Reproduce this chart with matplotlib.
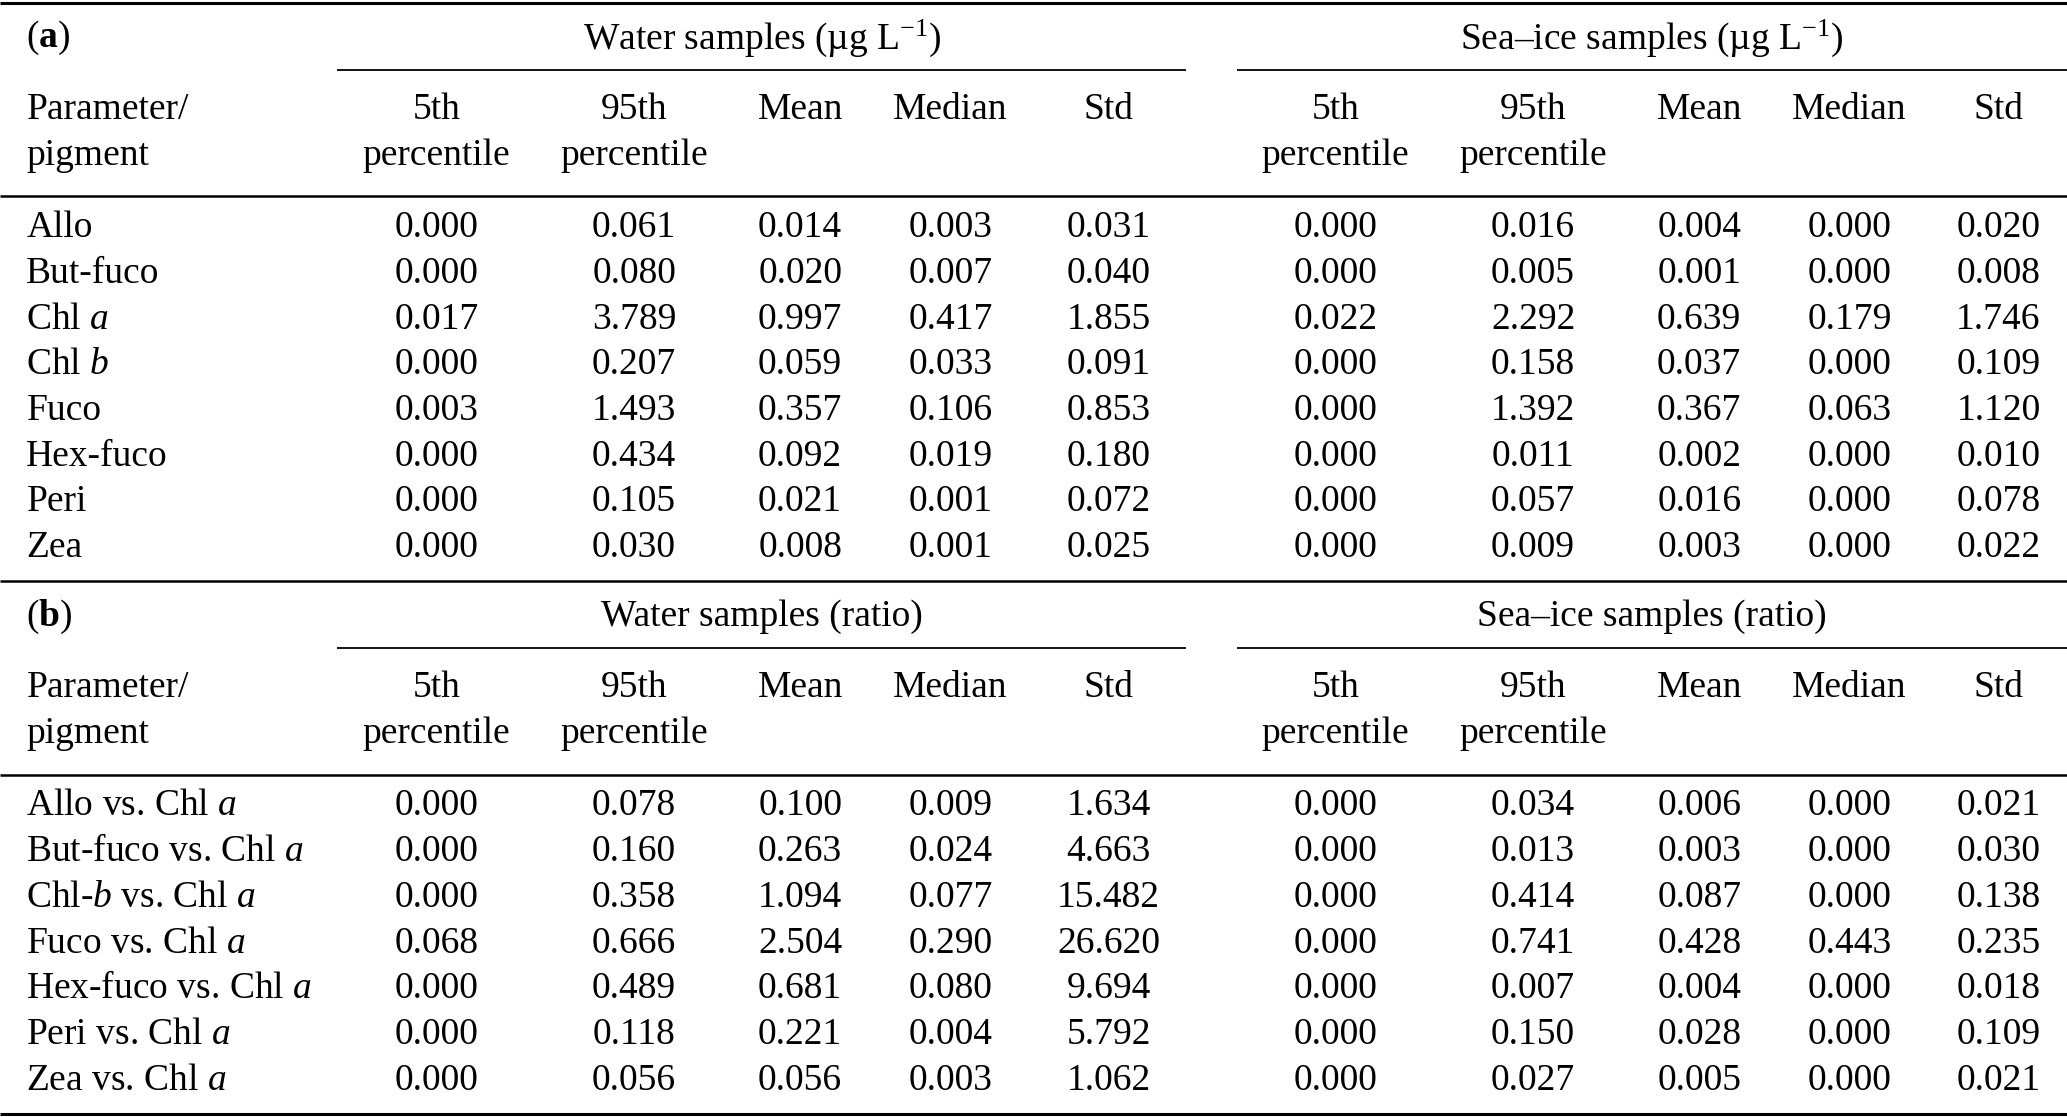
import matplotlib
matplotlib.use('Agg')
import matplotlib.pyplot as plt

plt.rcParams['font.family'] = ['Liberation Serif', 'DejaVu Serif']
plt.rcParams['mathtext.fontset'] = 'custom'
plt.rcParams['mathtext.rm'] = 'Liberation Serif'
plt.rcParams['mathtext.it'] = 'Liberation Serif:italic'
plt.rcParams['mathtext.bf'] = 'Liberation Serif:bold'

# ---- data ----
stat_headers = ["5th\npercentile", "95th\npercentile", "Mean", "Median", "Std"]

pigments_a = ["Allo", "But-fuco", r"Chl $\mathit{a}$", r"Chl $\mathit{b}$", "Fuco",
              "Hex-fuco", "Peri", "Zea"]
water_a = {
    "p5":     [0.000, 0.000, 0.017, 0.000, 0.003, 0.000, 0.000, 0.000],
    "p95":    [0.061, 0.080, 3.789, 0.207, 1.493, 0.434, 0.105, 0.030],
    "mean":   [0.014, 0.020, 0.997, 0.059, 0.357, 0.092, 0.021, 0.008],
    "median": [0.003, 0.007, 0.417, 0.033, 0.106, 0.019, 0.001, 0.001],
    "std":    [0.031, 0.040, 1.855, 0.091, 0.853, 0.180, 0.072, 0.025],
}
ice_a = {
    "p5":     [0.000, 0.000, 0.022, 0.000, 0.000, 0.000, 0.000, 0.000],
    "p95":    [0.016, 0.005, 2.292, 0.158, 1.392, 0.011, 0.057, 0.009],
    "mean":   [0.004, 0.001, 0.639, 0.037, 0.367, 0.002, 0.016, 0.003],
    "median": [0.000, 0.000, 0.179, 0.000, 0.063, 0.000, 0.000, 0.000],
    "std":    [0.020, 0.008, 1.746, 0.109, 1.120, 0.010, 0.078, 0.022],
}

pigments_b = [r"Allo vs. Chl $\mathit{a}$", r"But-fuco vs. Chl $\mathit{a}$",
              r"Chl-$\mathit{b}$ vs. Chl $\mathit{a}$", r"Fuco vs. Chl $\mathit{a}$",
              r"Hex-fuco vs. Chl $\mathit{a}$", r"Peri vs. Chl $\mathit{a}$",
              r"Zea vs. Chl $\mathit{a}$"]
water_b = {
    "p5":     [0.000, 0.000, 0.000, 0.068, 0.000, 0.000, 0.000],
    "p95":    [0.078, 0.160, 0.358, 0.666, 0.489, 0.118, 0.056],
    "mean":   [0.100, 0.263, 1.094, 2.504, 0.681, 0.221, 0.056],
    "median": [0.009, 0.024, 0.077, 0.290, 0.080, 0.004, 0.003],
    "std":    [1.634, 4.663, 15.482, 26.620, 9.694, 5.792, 1.062],
}
ice_b = {
    "p5":     [0.000, 0.000, 0.000, 0.000, 0.000, 0.000, 0.000],
    "p95":    [0.034, 0.013, 0.414, 0.741, 0.007, 0.150, 0.027],
    "mean":   [0.006, 0.003, 0.087, 0.428, 0.004, 0.028, 0.005],
    "median": [0.000, 0.000, 0.000, 0.443, 0.000, 0.000, 0.000],
    "std":    [0.021, 0.030, 0.138, 0.235, 0.018, 0.109, 0.021],
}
stat_keys = ["p5", "p95", "mean", "median", "std"]

# ---- layout (table units, width 1568 x height 848) ----
W, H = 1568, 848
FS = 27
x_label = 20
x_water = [331, 481, 607, 721, 841]
x_ice = [1013, 1163, 1289, 1403, 1516]
row_h = 34.7

fig = plt.figure(figsize=(20.67, 11.17), dpi=100)
ax = fig.add_axes([0, 0, 1, 1])
ax.set_xlim(0, W)
ax.set_ylim(H, 0)
ax.axis('off')


def hline(y, x0=0, x1=W, lw=1.6):
    ax.plot([x0, x1], [y, y], color='black', lw=lw, solid_capstyle='butt')


def section(y0, tag, unit, pigments, water, ice):
    # y0 = y of section title row
    ax.text(x_label, y0, f"($\\mathbf{{{tag}}}$)", fontsize=FS, va='center', ha='left')
    ax.text((256 + 900) / 2, y0, f"Water samples {unit}", fontsize=FS, va='center', ha='center')
    ax.text((938 + W) / 2, y0, f"Sea\u2013ice samples {unit}", fontsize=FS, va='center', ha='center')
    hline(y0 + 24, 256, 900, lw=1.3)
    hline(y0 + 24, 938, W, lw=1.3)
    ax.text(x_label, y0 + 54, "Parameter/", fontsize=FS, va='center', ha='left')
    ax.text(x_label, y0 + 89, "pigment", fontsize=FS, va='center', ha='left')
    for xs in (x_water, x_ice):
        for x, h in zip(xs, stat_headers):
            lines = h.split("\n")
            for k, ln in enumerate(lines):
                ax.text(x, y0 + 54 + 35 * k, ln, fontsize=FS, va='center', ha='center')
    hline(y0 + 120, lw=1.8)
    for i, name in enumerate(pigments):
        y = y0 + 144 + i * row_h
        ax.text(x_label, y, name, fontsize=FS, va='center', ha='left')
        for xs, d in ((x_water, water), (x_ice, ice)):
            for x, key in zip(xs, stat_keys):
                ax.text(x, y, f"{d[key][i]:.3f}", fontsize=FS, va='center', ha='center')


hline(2, lw=2.2)
section(29, "a", r"(µg L$^{\mathrm{-1}}$)", pigments_a, water_a, ice_a)
hline(441, lw=1.8)
section(468, "b", "(ratio)", pigments_b, water_b, ice_b)
hline(846, lw=2.2)

fig.savefig("out.png", dpi=100, facecolor='white')
